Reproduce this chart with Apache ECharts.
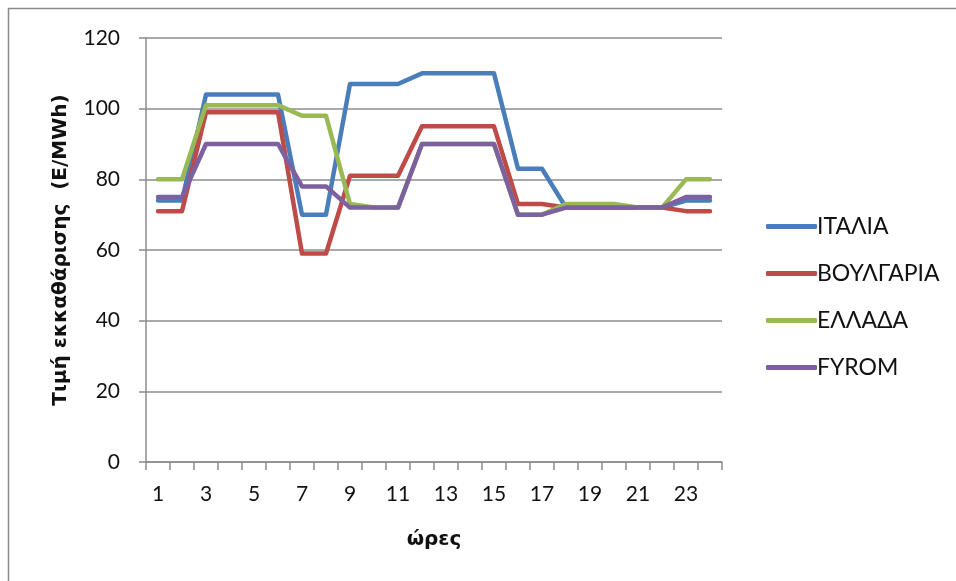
<!DOCTYPE html>
<html>
<head>
<meta charset="utf-8">
<script src="https://cdn.jsdelivr.net/npm/echarts@6/dist/echarts.min.js"></script>
<style>
  html, body { margin: 0; padding: 0; background: #fff; }
  #chart { width: 956px; height: 581px; }
</style>
</head>
<body>
<div id="chart"></div>
<script>
// Hourly clearing prices per market (E/MWh)
const hours = Array.from({ length: 24 }, (_, i) => String(i + 1));
const italia    = [74, 74, 104, 104, 104, 104, 70, 70, 107, 107, 107, 110, 110, 110, 110, 83, 83, 72, 72, 72, 72, 72, 74, 74];
const voulgaria = [71, 71, 99, 99, 99, 99, 59, 59, 81, 81, 81, 95, 95, 95, 95, 73, 73, 72, 72, 72, 72, 72, 71, 71];
const ellada    = [80, 80, 101, 101, 101, 101, 98, 98, 73, 72, 72, 90, 90, 90, 90, 70, 70, 73, 73, 73, 72, 72, 80, 80];
const fyrom     = [75, 75, 90, 90, 90, 90, 78, 78, 72, 72, 72, 90, 90, 90, 90, 70, 70, 72, 72, 72, 72, 72, 75, 75];
const yTicks = { min: 0, max: 120, step: 20 };

const FONT = 'Lato, "Noto Sans", sans-serif';
const TITLE_FONT = '"DejaVu Sans", "Noto Sans", sans-serif';
const AXIS_GREY = '#8c8c8c';

const chart = echarts.init(document.getElementById('chart'), null, { renderer: 'canvas' });

function line(name, data, color) {
  return {
    name, type: 'line', data,
    symbol: 'none',
    lineStyle: { width: 4.5, color, cap: 'round', join: 'round' },
    itemStyle: { color },
    animation: false
  };
}

chart.setOption({
  backgroundColor: '#fff',
  animation: false,
  graphic: [{
    type: 'rect',
    shape: { x: 8.5, y: 8.5, width: 1000, height: 700 },
    style: { fill: 'none', stroke: '#8a8a8a', lineWidth: 1.5 },
    silent: true
  }],
  grid: { left: 146, right: 234, top: 38, bottom: 119, containLabel: false },
  legend: {
    orient: 'vertical',
    left: 761,
    top: 210,
    itemWidth: 51,
    itemHeight: 5,
    itemGap: 24,
    icon: 'roundRect',
    textStyle: { fontFamily: FONT, fontSize: 23, color: '#111', padding: [0, 0, 0, -5] },
    data: ['ΙΤΑΛΙΑ', 'ΒΟΥΛΓΑΡΙΑ', 'ΕΛΛΑΔΑ', 'FYROM']
  },
  xAxis: {
    type: 'category',
    data: hours,
    boundaryGap: true,
    name: 'ώρες',
    nameLocation: 'middle',
    nameGap: 68,
    nameTextStyle: { fontFamily: TITLE_FONT, fontSize: 20, fontWeight: 'bold', color: '#111' },
    axisLine: { show: true, lineStyle: { color: AXIS_GREY, width: 1.5 } },
    axisTick: { show: true, interval: 0, length: 8, lineStyle: { color: AXIS_GREY, width: 1.5 } },
    axisLabel: { interval: 1, margin: 22, fontFamily: FONT, fontSize: 21, color: '#111' },
    splitLine: { show: false }
  },
  yAxis: {
    type: 'value',
    min: yTicks.min, max: yTicks.max, interval: yTicks.step,
    name: 'Τιμή εκκαθάρισης  (E/MWh)',
    nameLocation: 'middle',
    nameGap: 75,
    nameRotate: 90,
    nameTextStyle: { fontFamily: TITLE_FONT, fontSize: 20, fontWeight: 'bold', color: '#111' },
    axisLine: { show: true, lineStyle: { color: AXIS_GREY, width: 1.5 } },
    axisTick: { show: true, length: 7, lineStyle: { color: AXIS_GREY, width: 1.5 } },
    axisLabel: { margin: 26, fontFamily: FONT, fontSize: 21, color: '#111' },
    splitLine: { show: true, lineStyle: { color: AXIS_GREY, width: 1.5 } }
  },
  series: [
    line('ΙΤΑΛΙΑ', italia, '#4a7ebb'),
    line('ΒΟΥΛΓΑΡΙΑ', voulgaria, '#be4b48'),
    line('ΕΛΛΑΔΑ', ellada, '#98b954'),
    line('FYROM', fyrom, '#7d60a0')
  ]
});
</script>
</body>
</html>
